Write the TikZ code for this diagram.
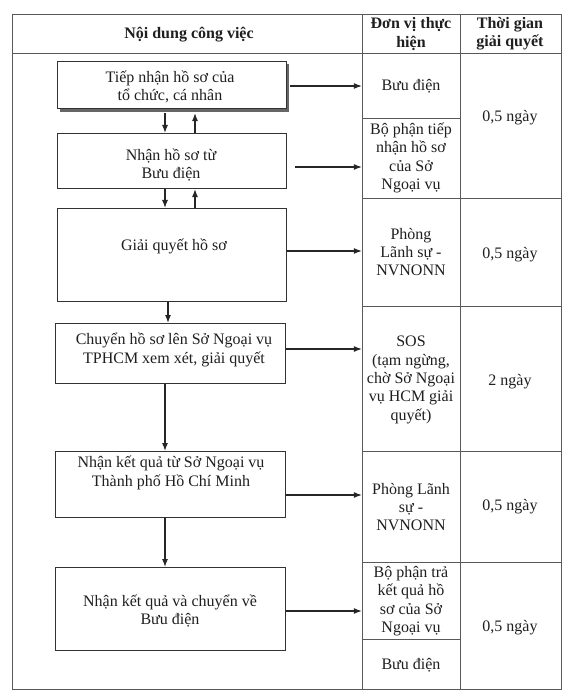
\documentclass[tikz,border=0pt]{standalone}
\usepackage{fontspec}
\setmainfont{Liberation Serif}
\usetikzlibrary{arrows.meta}
\begin{document}
\begin{tikzpicture}[x=1pt,y={(0pt,-1pt)},
  tline/.style={draw=black!65, line width=0.9pt},
  box/.style={draw=black!80, line width=1.1pt, fill=white, inner sep=0pt},
  txt/.style={font=\fontsize{16}{18.4}\selectfont, text=black!88, align=center, inner sep=0pt},
  hdr/.style={font=\fontsize{16}{18.4}\selectfont\bfseries, text=black!88, align=center, inner sep=0pt},
  cell/.style={txt, minimum width=98pt},
  arr/.style={draw=black!85, line width=1.1pt, -{Latex[length=8pt,width=6pt]}}
]
\useasboundingbox (0,0) rectangle (575,700);
\fill[white] (0,0) rectangle (575,700);

% table frame
\draw[tline] (12,14) rectangle (561,689);
\draw[tline] (12,53) -- (561,53);
\draw[tline] (362,14) -- (362,689);
\draw[tline] (460,14) -- (460,689);
\foreach \yy in {118,639} \draw[tline] (362,\yy) -- (460,\yy);
\foreach \yy in {198,306,451,562} \draw[tline] (362,\yy) -- (561,\yy);

% headers
\node[hdr] (h1) at (189,35) {Nội dung công việc};
\node[hdr] (h2) at (411,34) {Đơn vị thực\\hiện};
\node[hdr] (h3) at (510,34) {Thời gian\\giải quyết};

% column 2 cells
\node[cell, minimum height=64pt]  (c1) at (411,86)    {Bưu điện};
\node[cell, minimum height=80pt]  (c2) at (411,158)   {Bộ phận tiếp\\nhận hồ sơ\\của Sở\\Ngoại vụ};
\node[cell, minimum height=108pt] (c3) at (411,252)   {Phòng\\Lãnh sự -\\NVNONN};
\node[cell, minimum height=145pt] (c4) at (411,380)   {SOS\\(tạm ngừng,\\chờ Sở Ngoại\\vụ HCM giải\\quyết)};
\node[cell, minimum height=111pt] (c5) at (411,507)   {Phòng Lãnh\\sự -\\NVNONN};
\node[cell, minimum height=77pt]  (c6) at (411,601)   {Bộ phận trả\\kết quả hồ\\sơ của Sở\\Ngoại vụ};
\node[cell, minimum height=50pt]  (c7) at (411,665)   {Bưu điện};

% column 3
\node[txt] (d1) at (510,118) {0,5 ngày};
\node[txt] (d2) at (510,255) {0,5 ngày};
\node[txt] (d3) at (510,382) {2 ngày};
\node[txt] (d4) at (510,507) {0,5 ngày};
\node[txt] (d5) at (510,628) {0,5 ngày};

% boxes
\fill[black!60] (60,64) rectangle (289,112);
\node[box, anchor=north west, minimum width=229pt, minimum height=47pt] (b1) at (57,61) {};
\node[box, anchor=north west, minimum width=229pt, minimum height=55pt] (b2) at (57,133) {};
\node[box, anchor=north west, minimum width=229pt, minimum height=93pt] (b3) at (57,208) {};
\node[box, anchor=north west, minimum width=230pt, minimum height=60pt] (b4) at (55,323) {};
\node[box, anchor=north west, minimum width=230pt, minimum height=66pt] (b5) at (55,451) {};
\node[box, anchor=north west, minimum width=230pt, minimum height=83pt] (b6) at (55,567) {};

\node[txt] (t1) at (170,87)  {Tiếp nhận hồ sơ của\\tổ chức, cá nhân};
\node[txt] (t2) at (171,165) {Nhận hồ sơ từ\\Bưu điện};
\node[txt] (t3) at (174,246) {Giải quyết hồ sơ};
\node[txt] (t4) at (174,350) {Chuyển hồ sơ lên Sở Ngoại vụ\\TPHCM xem xét, giải quyết};
\node[txt] (t5) at (171,473) {Nhận kết quả từ Sở Ngoại vụ\\Thành phố Hồ Chí Minh};
\node[txt] (t6) at (170,611) {Nhận kết quả và chuyển về\\Bưu điện};

% helper coordinates
\coordinate (xa) at (165,0);
\coordinate (xb) at (195,0);
\coordinate (xc) at (168,0);
\coordinate (ya1) at (0,86);
\coordinate (ya2) at (0,167);
\coordinate (ya3) at (0,251);
\coordinate (ya4) at (0,349);
\coordinate (ya5) at (0,495);
\coordinate (ya6) at (0,611);

% horizontal arrows
\draw[arr] (b1.east |- ya1) ++(3pt,0) -- (c1.west |- ya1);
\draw[arr, shorten <=8pt] (b2.east |- ya2) -- (c2.west |- ya2);
\draw[arr] (b3.east |- ya3) -- (c3.west |- ya3);
\draw[arr] (b4.east |- ya4) -- (c4.west |- ya4);
\draw[arr] (b5.east |- ya5) -- (c5.west |- ya5);
\draw[arr] (b6.east |- ya6) -- (c6.west |- ya6);

% vertical arrows
\draw[arr, shorten <=4pt] (b1.south -| xa) -- (b2.north -| xa);
\draw[arr, shorten >=4pt] (b2.north -| xb) -- (b1.south -| xb);
\draw[arr] (b2.south -| xa) -- (b3.north -| xa);
\draw[arr] (b3.north -| xb) -- (b2.south -| xb);
\draw[arr] (b3.south -| xc) -- (b4.north -| xc);
\draw[arr] (b4.south -| xa) -- (b5.north -| xa);
\draw[arr] (b5.south -| xa) -- (b6.north -| xa);
\end{tikzpicture}
\end{document}
